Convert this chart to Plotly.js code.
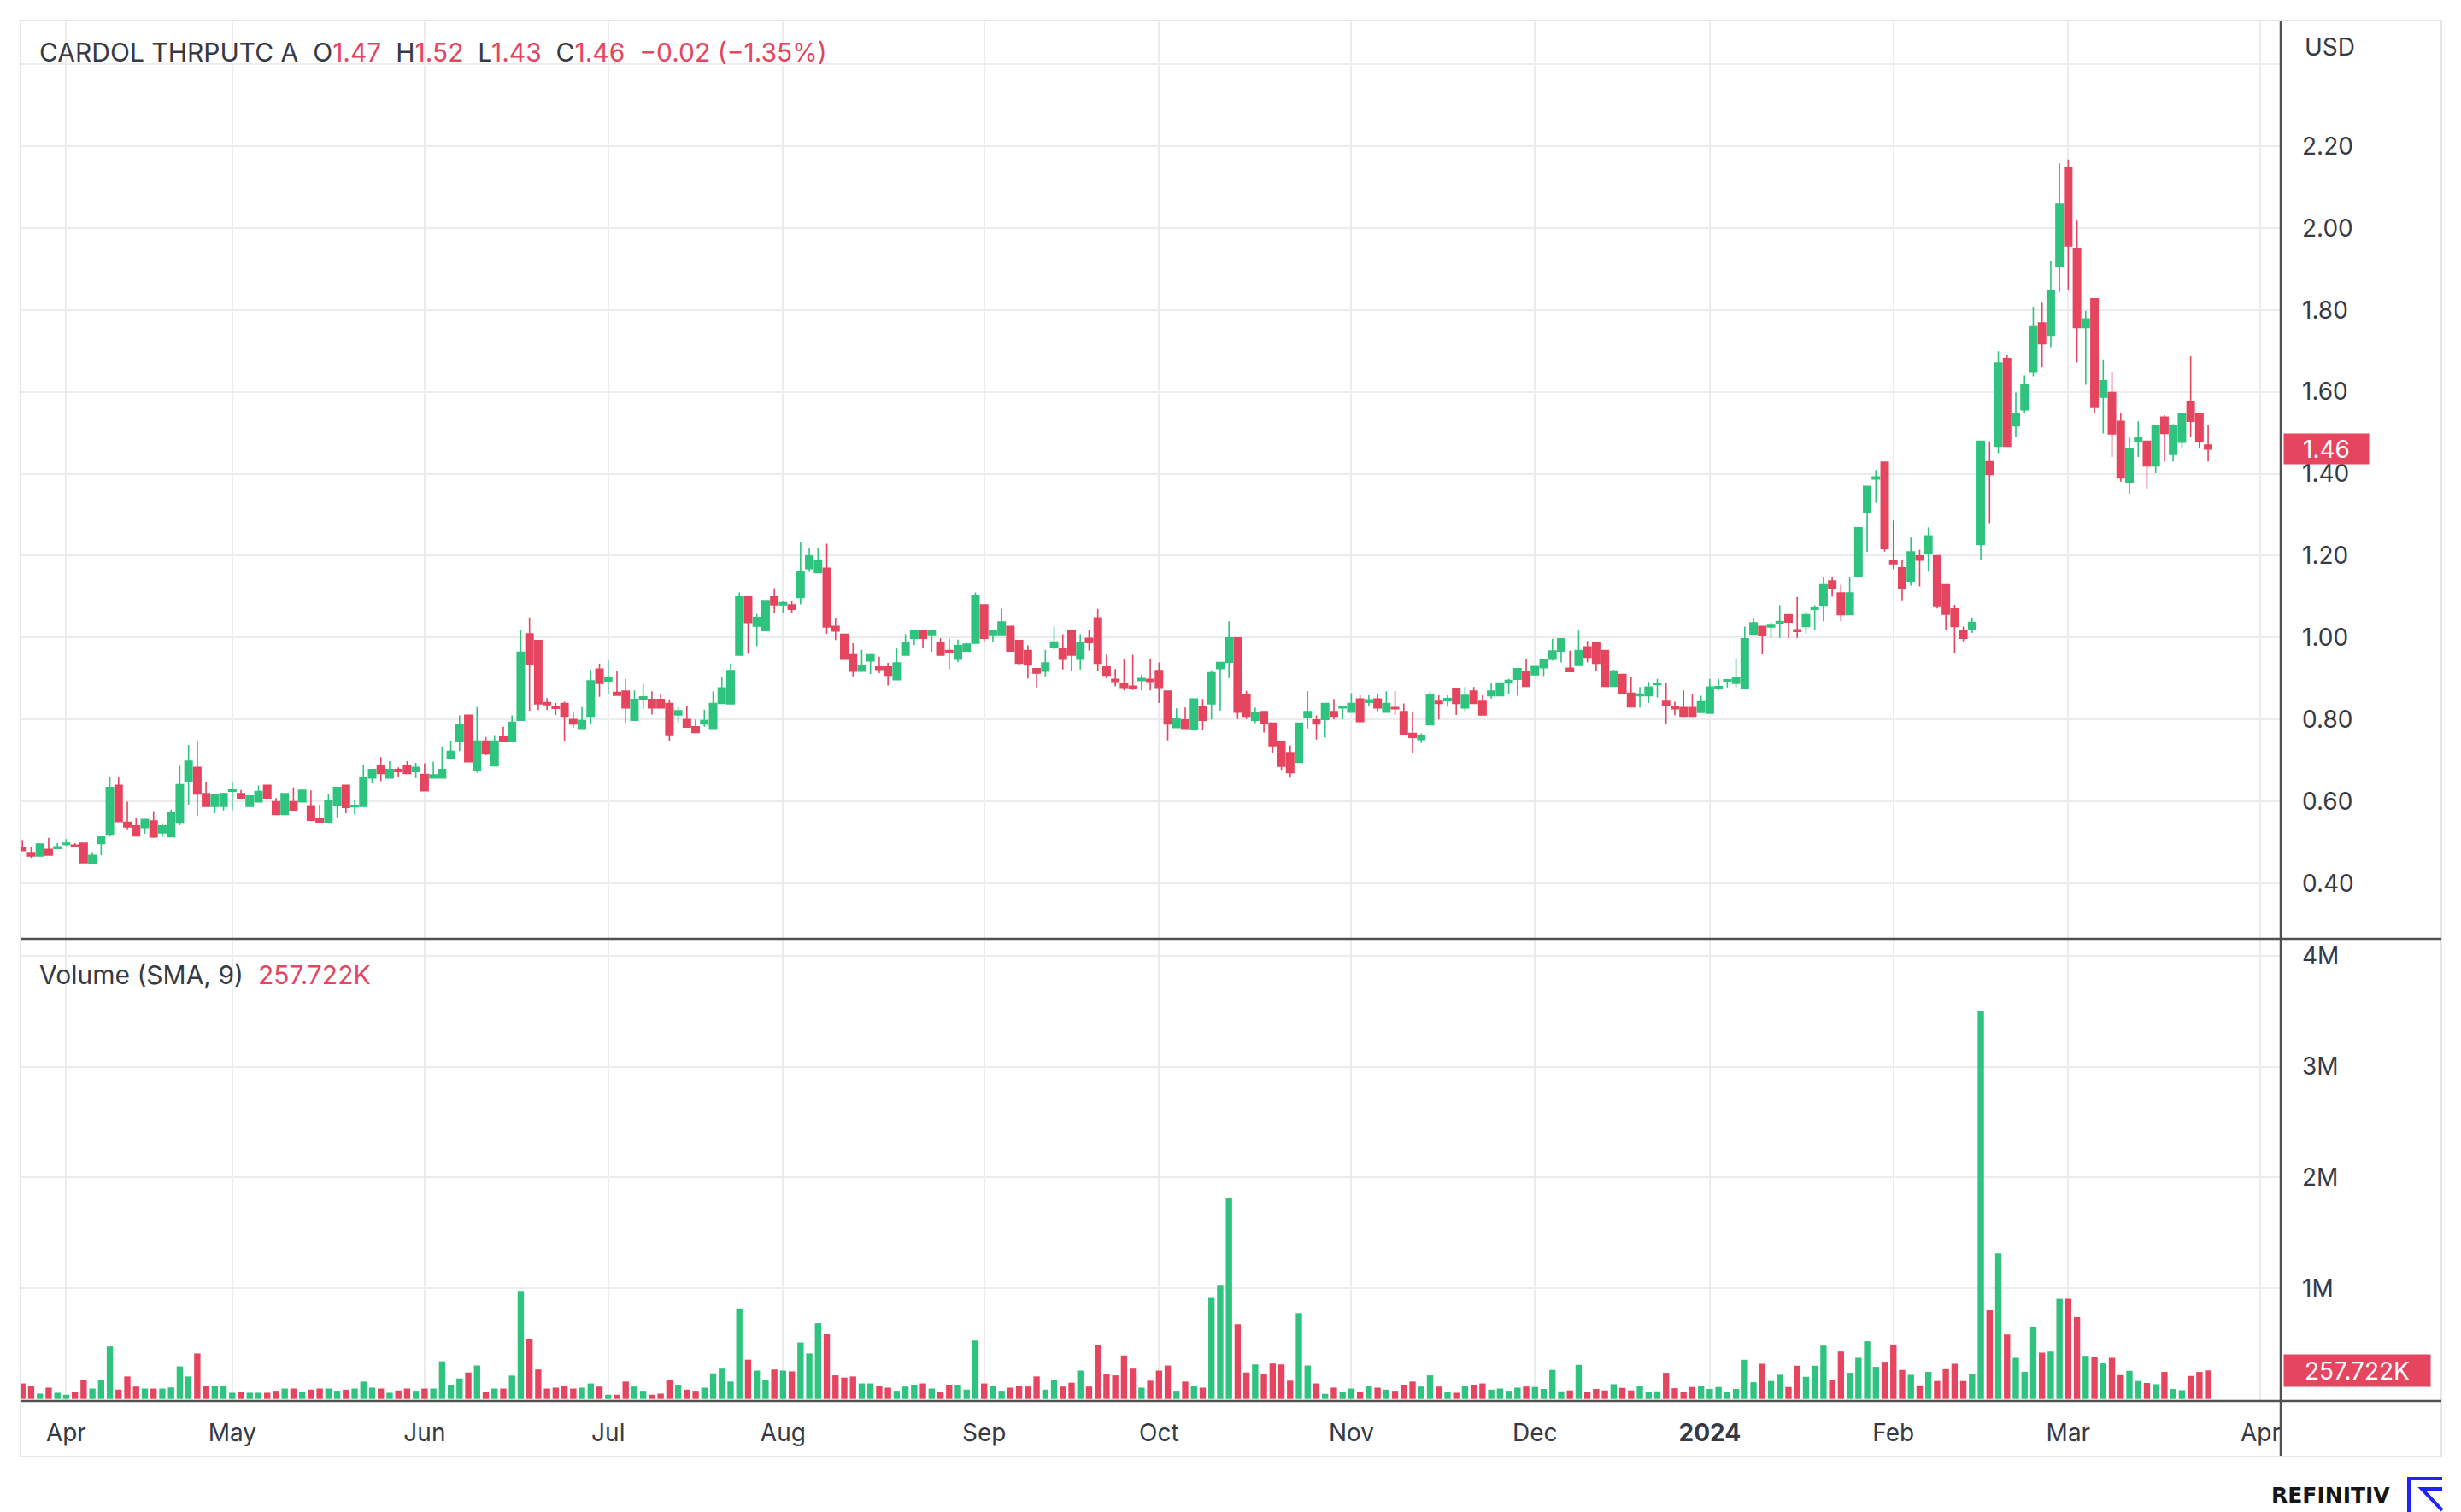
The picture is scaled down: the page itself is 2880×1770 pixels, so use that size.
<!DOCTYPE html>
<html>
<head>
<meta charset="utf-8">
<script src="https://cdn.plot.ly/plotly-3.0.1.min.js"></script>
<style>
html,body{margin:0;padding:0;background:#ffffff;}
#chart{width:2880px;height:1770px;}
</style>
</head>
<body>
<div id="chart"></div>
<script>
// ---------------- DATA ----------------
const symbolName = 'CARDOL THRPUTC A';
const firstDate = '2023-03-27';
const marketHolidays = ['2023-04-07','2023-05-29','2023-06-19','2023-07-04','2023-09-04','2023-11-23','2023-12-25','2024-01-01','2024-01-15','2024-02-19'];
const monthLabels = ['Jan','Feb','Mar','Apr','May','Jun','Jul','Aug','Sep','Oct','Nov','Dec'];
const futureTicks = [[256, 'Apr']];
const priceTicks = [0.40,0.60,0.80,1.00,1.20,1.40,1.60,1.80,2.00,2.20,2.40];
const volumeTicks = [1000000,2000000,3000000,4000000];
const volumeTickText = ['1M','2M','3M','4M'];

const openP = [
.488,.475,.467,.483,.485,
.495,.493,.498,.448,.497,.518,.639,.549,.540,.536,.552,.523,.514,.547,.648,.683,.619,.588,.588,
.625,.619,.588,.599,.639,.599,.568,.599,.599,.589,.559,.549,.590,.639,.587,.588,.657,.688,.657,.678,.688,.673,
.666,.657,.657,.706,.746,.810,.677,.747,.687,.757,.746,.798,1.009,.993,.841,.832,.839,.800,.778,.808,.923,
.894,.866,.869,.798,.848,.849,.849,.839,.811,.800,.782,.789,.778,.839,.838,.957,1.099,1.028,1.017,1.099,
1.080,1.080,1.098,1.168,1.158,1.169,1.027,1.008,.958,.918,.943,.928,.928,.897,.957,.998,1.018,1.007,.988,.968,.947,.967,.986,
1.080,1.007,1.007,1.027,.993,.968,.924,.918,.977,.973,1.018,.947,.998,1.048,.928,.898,.888,.881,.895,.898,
.919,.869,.780,.799,.775,.832,.838,.924,.940,.999,.861,.798,.819,.791,.745,.719,.695,.806,.799,.800,.819,.828,
.818,.850,.842,.850,.818,.829,.819,.766,.751,.787,.844,.846,.876,.828,.869,.844,.858,.858,.889,.898,.916,
.909,.926,.947,.967,.925,.932,.977,.987,.968,.881,.910,.864,.858,.858,.885,.844,.831,.829,.829,.817,
.815,.876,.894,.888,.876,1.008,1.027,1.026,1.034,1.056,1.019,1.027,1.069,1.079,1.138,1.109,1.056,1.149,1.307,1.387,1.428,
1.189,1.170,1.138,1.199,1.207,1.200,1.129,1.070,1.017,1.019,1.227,1.429,1.467,1.681,1.517,1.556,1.648,1.768,1.738,1.906,
2.147,1.950,1.757,1.827,1.587,1.598,1.528,1.378,1.479,1.479,1.419,1.538,1.447,1.477,1.577,1.547,1.47
];
const highP = [
.506,.488,.498,.511,.498,
.508,.498,.498,.476,.513,.660,.660,.599,.559,.556,.576,.545,.580,.687,.738,.747,.648,.616,.621,
.648,.628,.613,.639,.639,.608,.619,.634,.627,.627,.592,.619,.634,.639,.604,.688,.678,.708,.698,.683,.698,.694,
.693,.697,.734,.747,.810,.810,.830,.757,.760,.782,.810,1.019,1.049,.993,.852,.840,.843,.819,.830,.921,.936,
.944,.919,.899,.871,.887,.869,.861,.849,.830,.832,.800,.824,.869,.904,.936,1.110,1.099,1.058,1.090,1.120,
1.090,1.089,1.234,1.219,1.219,1.229,1.048,1.008,.986,.970,.958,.953,.938,.975,1.008,1.018,1.018,1.018,.998,.998,.995,.987,1.110,
1.080,1.018,1.070,1.027,.993,.981,.924,.970,1.027,1.008,1.018,1.008,1.018,1.070,.958,.923,.947,.958,.909,.947,
.939,.869,.827,.829,.850,.850,.920,.939,1.040,.999,.870,.829,.819,.791,.747,.737,.791,.869,.810,.839,.850,.834,
.864,.859,.859,.861,.869,.869,.839,.819,.766,.869,.859,.859,.876,.879,.879,.859,.889,.889,.899,.924,.947,
.929,.947,.997,.997,.968,1.017,.992,.987,.968,.921,.910,.903,.879,.892,.899,.888,.843,.871,.862,.858,
.899,.899,.899,.949,1.027,1.047,1.027,1.037,1.079,1.056,1.099,1.064,1.079,1.149,1.149,1.129,1.149,1.268,1.369,1.409,1.428,
1.286,1.189,1.244,1.214,1.269,1.200,1.129,1.080,1.027,1.049,1.479,1.479,1.699,1.689,1.598,1.640,1.808,1.818,1.920,2.158,
2.167,2.018,1.798,1.827,1.679,1.649,1.547,1.488,1.528,1.479,1.518,1.543,1.521,1.547,1.687,1.547,1.52
];
const lowP = [
.480,.462,.467,.469,.485,
.491,.489,.450,.448,.469,.514,.551,.530,.516,.521,.511,.513,.514,.542,.592,.564,.588,.571,.578,
.578,.608,.588,.599,.608,.568,.568,.579,.599,.554,.549,.549,.561,.571,.568,.588,.644,.649,.657,.660,.668,.657,
.626,.657,.657,.706,.723,.697,.670,.713,.687,.746,.746,.798,.821,.823,.823,.811,.748,.780,.778,.788,.855,
.862,.859,.791,.798,.826,.812,.828,.748,.793,.781,.768,.782,.778,.839,.838,.957,.960,.979,1.017,1.059,
1.059,1.059,1.081,1.160,1.158,1.009,.994,.947,.905,.918,.911,.913,.883,.897,.957,.982,.975,.965,.957,.922,.940,.967,.986,
.989,.989,1.007,.967,.931,.900,.878,.905,.970,.922,.919,.922,.968,.919,.900,.881,.871,.872,.871,.871,
.840,.749,.780,.778,.775,.775,.800,.822,.901,.801,.801,.791,.768,.717,.677,.658,.695,.778,.751,.756,.800,.800,
.818,.795,.832,.820,.818,.811,.762,.717,.743,.787,.800,.831,.811,.820,.839,.811,.851,.858,.861,.858,.881,
.909,.906,.944,.939,.917,.932,.939,.919,.879,.879,.863,.831,.829,.840,.853,.790,.810,.808,.808,.817,
.815,.871,.878,.878,.876,1.008,.959,.999,.999,.999,.999,1.010,1.019,1.040,1.100,1.040,1.056,1.149,1.209,1.329,1.210,
1.167,1.091,1.127,1.125,1.161,1.071,1.019,.961,.991,1.011,1.190,1.279,1.450,1.467,1.490,1.547,1.638,1.659,1.709,1.844,
1.848,1.671,1.617,1.549,1.498,1.441,1.381,1.351,1.441,1.364,1.401,1.430,1.430,1.462,1.490,1.462,1.43
];
const closeP = [
.480,.467,.496,.469,.489,
.498,.490,.450,.468,.513,.634,.551,.538,.516,.556,.513,.540,.572,.641,.698,.618,.588,.616,.619,
.628,.608,.613,.624,.608,.568,.619,.579,.627,.554,.549,.602,.634,.585,.590,.659,.678,.668,.678,.673,.668,.683,
.626,.665,.678,.722,.787,.697,.747,.716,.747,.746,.793,.964,.935,.838,.836,.827,.808,.789,.797,.894,.888,
.903,.859,.828,.849,.855,.828,.828,.761,.821,.781,.768,.797,.839,.877,.919,1.099,1.037,1.049,1.090,1.080,
1.085,1.069,1.160,1.199,1.189,1.026,1.016,.947,.918,.930,.958,.922,.908,.938,.988,1.018,.998,1.018,.957,.965,.980,.984,1.101,
.998,1.018,1.038,.967,.937,.933,.913,.938,.989,.947,.957,.988,.988,.937,.908,.893,.878,.875,.900,.893,
.878,.789,.801,.778,.850,.798,.914,.939,.999,.818,.808,.817,.791,.736,.686,.670,.791,.819,.789,.839,.808,.832,
.839,.795,.848,.828,.839,.826,.764,.756,.761,.861,.839,.851,.839,.859,.839,.811,.869,.889,.895,.924,.881,
.929,.947,.967,.997,.917,.968,.952,.937,.881,.918,.863,.831,.862,.879,.888,.834,.826,.808,.808,.843,
.879,.880,.897,.902,.997,1.036,1.006,1.030,1.039,1.038,1.015,1.056,1.072,1.129,1.119,1.056,1.109,1.268,1.369,1.392,1.217,
1.180,1.119,1.209,1.189,1.248,1.078,1.057,1.027,.998,1.037,1.479,1.398,1.670,1.467,1.547,1.617,1.759,1.717,1.848,2.058,
1.956,1.757,1.778,1.562,1.627,1.497,1.390,1.460,1.488,1.419,1.518,1.498,1.518,1.547,1.528,1.48,1.46
];
const volume = [
140000,119000,48000,102000,56000,
38000,66000,175000,94000,175000,475000,84000,203000,112000,94000,94000,94000,104000,294000,203000,411000,119000,119000,119000,
56000,66000,56000,56000,56000,74000,94000,94000,66000,84000,94000,94000,74000,84000,94000,157000,102000,94000,56000,76000,94000,74000,
94000,94000,340000,129000,185000,239000,302000,66000,94000,94000,211000,975000,538000,266000,94000,102000,119000,94000,102000,140000,112000,
38000,38000,157000,112000,74000,38000,48000,168000,129000,84000,74000,102000,231000,274000,157000,817000,355000,256000,168000,266000,
256000,249000,510000,411000,683000,584000,213000,193000,203000,140000,140000,119000,102000,74000,112000,129000,140000,94000,66000,129000,129000,84000,528000,
140000,119000,74000,102000,119000,112000,203000,84000,175000,112000,147000,256000,112000,485000,221000,213000,393000,274000,102000,165000,
256000,302000,74000,157000,119000,102000,919000,1028000,1815000,675000,239000,312000,221000,320000,312000,165000,774000,302000,140000,46000,102000,66000,
94000,66000,119000,102000,84000,74000,129000,157000,112000,213000,112000,66000,56000,119000,129000,140000,84000,94000,74000,102000,112000,
108000,90000,262000,69000,77000,308000,62000,90000,77000,133000,100000,77000,121000,62000,69000,236000,97000,62000,108000,115000,
90000,108000,62000,90000,354000,151000,318000,162000,218000,108000,300000,200000,300000,482000,172000,428000,236000,372000,521000,290000,336000,
492000,262000,218000,123000,244000,162000,269000,318000,162000,226000,3500000,803000,1315000,582000,372000,244000,646000,418000,428000,903000,
903000,738000,390000,382000,326000,372000,215000,254000,162000,144000,133000,244000,90000,79000,208000,244000,257722
];

// ---------------- STYLE ----------------
const GREEN = '#2ec37e';
const RED = '#e5455f';
const TEXT = '#363a45';
const GRID = '#ececef';
const DARK = '#505050';
const FONT = 'Inter, Roboto, "Open Sans", sans-serif';

const W = 2880, H = 1770;
const L = 24, R = 2669, T = 24, B = 1640;
const px2x = p => (p - L) / (R - L);
const px2y = p => (B - p) / (B - T);
const split = px2y(1099);

// trading calendar (for month ticks)
const holidaySet = new Set(marketHolidays);
const dates = [];
{
  let d = new Date(firstDate + 'T12:00:00Z');
  while (dates.length < openP.length) {
    const wd = d.getUTCDay();
    const iso = d.toISOString().slice(0, 10);
    if (wd !== 0 && wd !== 6 && !holidaySet.has(iso)) dates.push(new Date(d));
    d = new Date(d.getTime() + 86400000);
  }
}
const idx = openP.map((_, i) => i);
const tickVals = [], tickText = [];
for (let i = 1; i < dates.length; i++) {
  const m = dates[i].getUTCMonth();
  if (m !== dates[i - 1].getUTCMonth()) {
    tickVals.push(i);
    tickText.push(m === 0 ? '<b>' + dates[i].getUTCFullYear() + '</b>' : monthLabels[m]);
  }
}
futureTicks.forEach(t => { tickVals.push(t[0]); tickText.push(t[1]); });

const n = closeP.length;
const lastO = openP[n - 1], lastH = highP[n - 1], lastL = lowP[n - 1], lastC = closeP[n - 1];
const chg = lastC - closeP[n - 2];
const pct = chg / closeP[n - 2] * 100;
const fmtSigned = v => (v < 0 ? '\u2212' : '+') + Math.abs(v).toFixed(2);
const lastVol = volume[n - 1];
const volText = (lastVol / 1000).toFixed(3) + 'K';
const sp = '\u00a0\u00a0';
const red = s => '<span style="color:' + RED + '">' + s + '</span>';

const headerText = symbolName + sp + 'O' + red(lastO.toFixed(2)) + sp + 'H' + red(lastH.toFixed(2)) + sp +
  'L' + red(lastL.toFixed(2)) + sp + 'C' + red(lastC.toFixed(2)) + sp +
  red(fmtSigned(chg) + ' (' + fmtSigned(pct) + '%)');

const volColors = idx.map(i => closeP[i] >= openP[i] ? GREEN : RED);

const traces = [
  {
    type: 'candlestick', x: idx, open: openP, high: highP, low: lowP, close: closeP,
    xaxis: 'x', yaxis: 'y',
    increasing: { line: { color: GREEN, width: 1.6 }, fillcolor: GREEN },
    decreasing: { line: { color: RED, width: 1.6 }, fillcolor: RED },
    whiskerwidth: 0, hoverinfo: 'skip', showlegend: false
  },
  {
    type: 'bar', x: idx, y: volume, xaxis: 'x2', yaxis: 'y2',
    marker: { color: volColors, line: { width: 0 } },
    hoverinfo: 'skip', showlegend: false
  }
];

const xRange = [-0.22, 258.3];
const layout = {
  width: W, height: H,
  margin: { l: L, r: W - R, t: T, b: H - B, pad: 0 },
  paper_bgcolor: '#ffffff', plot_bgcolor: '#ffffff',
  font: { family: FONT, size: 28, color: TEXT },
  showlegend: false, hovermode: false,
  boxgap: 0.18, boxgroupgap: 0, bargap: 0.28,
  xaxis: {
    domain: [0, 1], anchor: 'y', range: xRange, matches: 'x2',
    tickmode: 'array', tickvals: tickVals, ticktext: tickText, showticklabels: false,
    showgrid: true, gridcolor: GRID, gridwidth: 2, zeroline: false, showline: false, ticks: '',
    rangeslider: { visible: false }, fixedrange: true
  },
  xaxis2: {
    domain: [0, 1], anchor: 'y2', range: xRange,
    tickmode: 'array', tickvals: tickVals, ticktext: tickText, showticklabels: true,
    tickfont: { family: FONT, size: 28, color: TEXT }, ticklabelstandoff: 18,
    showgrid: true, gridcolor: GRID, gridwidth: 2, zeroline: false, showline: false, ticks: '',
    fixedrange: true
  },
  yaxis: {
    domain: [split, 1], anchor: 'x', side: 'right', range: [0.2644, 2.5066],
    tickmode: 'array', tickvals: priceTicks,
    ticktext: priceTicks.map(v => v > 2.3 ? '' : v.toFixed(2)),
    tickfont: { family: FONT, size: 28, color: TEXT }, ticks: '', ticklabelstandoff: 24,
    showgrid: true, gridcolor: GRID, gridwidth: 2, zeroline: false, showline: false, fixedrange: true
  },
  yaxis2: {
    domain: [0, split], anchor: 'x2', side: 'right', range: [-17700, 4153400],
    tickmode: 'array', tickvals: volumeTicks, ticktext: volumeTickText,
    tickfont: { family: FONT, size: 28, color: TEXT }, ticks: '', ticklabelstandoff: 24,
    showgrid: true, gridcolor: GRID, gridwidth: 2, zeroline: false, showline: false, fixedrange: true
  },
  shapes: [
    { type: 'rect', xref: 'paper', yref: 'paper', x0: 0, x1: px2x(2857), y0: px2y(1705), y1: 1,
      line: { color: '#e6e6ea', width: 2 }, fillcolor: 'rgba(0,0,0,0)', layer: 'below' },
    { type: 'line', xref: 'paper', yref: 'paper', x0: 1, x1: 1, y0: px2y(1705), y1: 1,
      line: { color: DARK, width: 2.5 } },
    { type: 'line', xref: 'paper', yref: 'paper', x0: 0, x1: px2x(2857), y0: split, y1: split,
      line: { color: DARK, width: 2.5 } },
    { type: 'line', xref: 'paper', yref: 'paper', x0: 0, x1: px2x(2857), y0: 0, y1: 0,
      line: { color: DARK, width: 2.5 } },
    { type: 'path', xref: 'paper', yref: 'paper',
      path: 'M ' + px2x(2819) + ',' + px2y(1772) + ' L ' + px2x(2819) + ',' + px2y(1731) + ' L ' + px2x(2858) + ',' + px2y(1731),
      line: { color: '#1f23f5', width: 4 } },
    { type: 'path', xref: 'paper', yref: 'paper',
      path: 'M ' + px2x(2858) + ',' + px2y(1743) + ' L ' + px2x(2834) + ',' + px2y(1743) + ' L ' + px2x(2858) + ',' + px2y(1768),
      line: { color: '#1f23f5', width: 4 } }
  ],
  annotations: [
    { xref: 'paper', yref: 'paper', x: px2x(44), y: px2y(61), xanchor: 'left', yanchor: 'middle',
      text: headerText, showarrow: false, font: { family: FONT, size: 30, color: TEXT } },
    { xref: 'paper', yref: 'paper', x: px2x(44), y: px2y(1141), xanchor: 'left', yanchor: 'middle',
      text: 'Volume (SMA, 9)' + sp + red(volText), showarrow: false, font: { family: FONT, size: 30, color: TEXT } },
    { xref: 'paper', yref: 'paper', x: px2x(2695), y: px2y(55), xanchor: 'left', yanchor: 'middle',
      text: 'USD', showarrow: false, font: { family: FONT, size: 28, color: TEXT } },
    { xref: 'paper', yref: 'y', x: px2x(2672), y: lastC, xanchor: 'left', yanchor: 'middle',
      text: lastC.toFixed(2), showarrow: false, bgcolor: RED, borderpad: 0, width: 99, height: 35, align: 'center',
      font: { family: FONT, size: 28, color: '#ffffff' } },
    { xref: 'paper', yref: 'y2', x: px2x(2672), y: lastVol, xanchor: 'left', yanchor: 'middle',
      text: volText, showarrow: false, bgcolor: RED, borderpad: 0, width: 171, height: 37, align: 'center',
      font: { family: FONT, size: 28, color: '#ffffff' } },
    { xref: 'paper', yref: 'paper', x: px2x(2656), y: px2y(1750), xanchor: 'left', yanchor: 'middle',
      text: '<b>REFINITIV</b>', showarrow: false, font: { family: '"DejaVu Sans", sans-serif', size: 25, color: '#161616' } }
  ]
};

Plotly.newPlot('chart', traces, layout, { staticPlot: true, displayModeBar: false });
</script>
</body>
</html>
